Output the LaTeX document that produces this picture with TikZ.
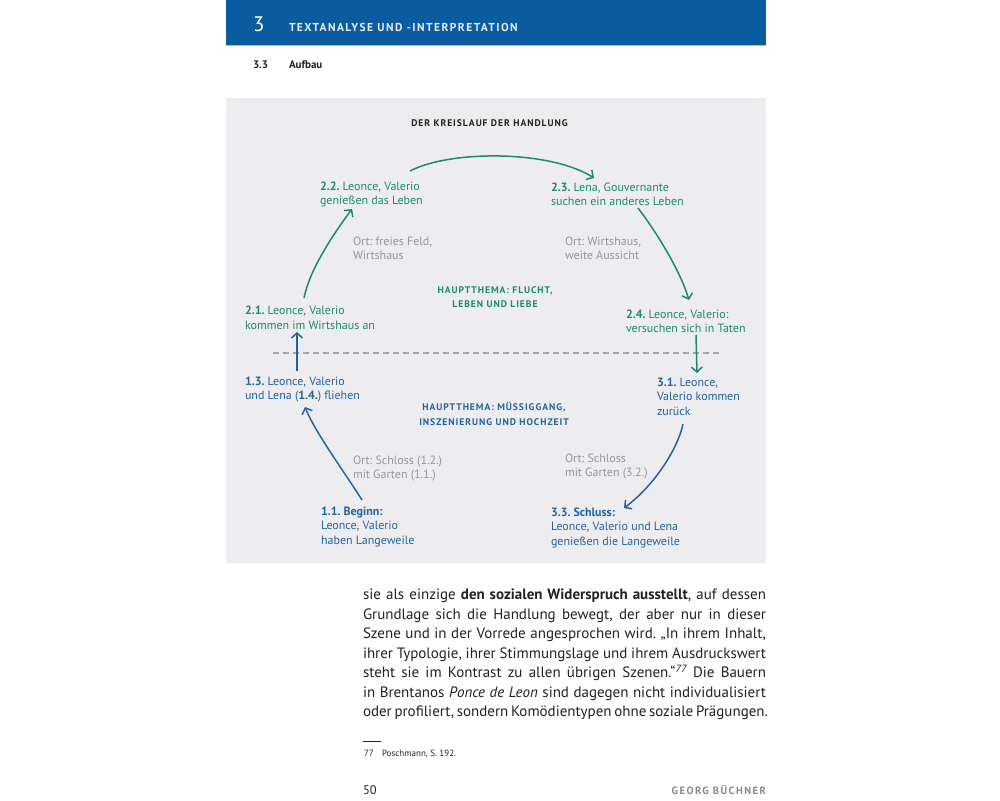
\documentclass[tikz,border=0pt]{standalone}
\usepackage{fontspec}
\setmainfont{PT Sans}
\usetikzlibrary{arrows.meta}
\definecolor{hdrblue}{HTML}{0A5C9E}
\definecolor{hdrline}{HTML}{8FC3E8}
\definecolor{hdrtext}{HTML}{E2ECF5}
\definecolor{panel}{HTML}{EDEDEF}
\definecolor{grn}{HTML}{1B8A6B}
\definecolor{blu}{HTML}{2463A1}
\definecolor{ortgray}{HTML}{96969B}
\definecolor{dashgray}{HTML}{A5A5A8}
\definecolor{ink}{HTML}{222222}
\definecolor{footgray}{HTML}{8A8A8A}
\newcommand\myfs[2]{\fontsize{#1}{#2}\selectfont}
\newcommand\mylines[1]{\begin{tabular}[t]{@{}l@{}}#1\end{tabular}}
\newcommand\myclines[1]{\begin{tabular}[t]{@{}c@{}}#1\end{tabular}}
\frenchspacing
\begin{document}
\begin{tikzpicture}[x=1pt,y=-1pt,
  every node/.style={inner sep=0pt, outer sep=0pt},
  nodetxt/.style={anchor=base west, font=\myfs{12}{14.5}},
  orttxt/.style={anchor=base west, font=\myfs{12}{14.5}, text=ortgray},
  themetxt/.style={anchor=base, font=\myfs{9.6}{14.5}\bfseries\addfontfeatures{LetterSpace=10}},
  bodyline/.style={anchor=base west, font=\myfs{15}{19.5}, text=ink},
  arrg/.style={draw=grn, line width=1.5pt, -{Straight Barb[length=5pt,width=11pt]}},
  arrb/.style={draw=blu, line width=1.5pt, -{Straight Barb[length=5pt,width=11pt]}},
  divider/.style={draw=dashgray, line width=1.2pt, dash pattern=on 6pt off 4pt}
]
\useasboundingbox (0,0) rectangle (1000,800);
\fill[white] (0,0) rectangle (1000,800);

% header
\fill[hdrblue] (226,0) rectangle (766,46);
\fill[hdrline] (226,45.5) rectangle (766,46.5);
\node[anchor=base west, font=\myfs{21}{24}, text=white] (chap) at (253,32) {3};
\node[anchor=base west, font=\myfs{11.5}{14}\bfseries\addfontfeatures{LetterSpace=12.5}, text=hdrtext] (chaptitle) at (289,32) {TEXTANALYSE UND -INTERPRETATION};
\node[anchor=base west, font=\myfs{11}{13}\bfseries, text=ink] (secnum) at (253,68) {3.3};
\node[anchor=base west, font=\myfs{11}{13}\bfseries, text=ink] (sectitle) at (289,68) {Aufbau};

% panel
\fill[panel] (226,98) rectangle (766,563);
\node[anchor=base, font=\myfs{9.6}{11}\bfseries\addfontfeatures{LetterSpace=10}, text=ink] (title) at (489.5,126) {DER KREISLAUF DER HANDLUNG};

% nodes
\node[nodetxt, text=grn] (n22) at (320,190) {\mylines{\textbf{2.2.} Leonce, Valerio\\genießen das Leben}};
\node[nodetxt, text=grn] (n23) at (551,191) {\mylines{\textbf{2.3.} Lena, Gouvernante\\suchen ein anderes Leben}};
\node[nodetxt, text=grn] (n21) at (245,314.5) {\mylines{\textbf{2.1.} Leonce, Valerio\\kommen im Wirtshaus an}};
\node[nodetxt, text=grn] (n24) at (626,318) {\mylines{\textbf{2.4.} Leonce, Valerio:\\versuchen sich in Taten}};
\node[nodetxt, text=blu] (n13) at (245,385) {\mylines{\textbf{1.3.} Leonce, Valerio\\und Lena (\textbf{1.4.}) fliehen}};
\node[nodetxt, text=blu] (n31) at (657,386) {\mylines{\textbf{3.1.} Leonce,\\Valerio kommen\\zurück}};
\node[nodetxt, text=blu] (n11) at (321,515) {\mylines{\textbf{1.1. Beginn:}\\Leonce, Valerio\\haben Langeweile}};
\node[nodetxt, text=blu] (n33) at (551,516) {\mylines{\textbf{3.3. Schluss:}\\Leonce, Valerio und Lena\\genießen die Langeweile}};

% places
\node[orttxt] (o1) at (353,245) {\mylines{Ort: freies Feld,\\Wirtshaus}};
\node[orttxt] (o2) at (565,245) {\mylines{Ort: Wirtshaus,\\weite Aussicht}};
\node[orttxt] (o3) at (353,464) {\mylines{Ort: Schloss (1.2.)\\mit Garten (1.1.)}};
\node[orttxt] (o4) at (565,462) {\mylines{Ort: Schloss\\mit Garten (3.2.)}};

% themes
\node[themetxt, text=grn] (t2) at (495,293) {\myclines{HAUPTTHEMA: FLUCHT,\\LEBEN UND LIEBE}};
\node[themetxt, text=blu] (t1) at (494,410.5) {\myclines{HAUPTTHEMA: MÜSSIGGANG,\\INSZENIERUNG UND HOCHZEIT}};

% divider
\coordinate (dl) at (273,353);
\coordinate (dr) at (719,353);
\draw[divider] (dl) -- (dr);

% arrow ends
\coordinate (a1s) at (410,171);  \coordinate (a1e) at (594,178);
\coordinate (a2s) at (638,208);  \coordinate (a2e) at (689,300);
\coordinate (a3s) at (304,298);  \coordinate (a3e) at (352,209);
\coordinate (a4s) at (696,335);  \coordinate (a4e) at (697,373);
\coordinate (a5s) at (297,371);  \coordinate (a5e) at (297,332);
\coordinate (a6s) at (362,500);  \coordinate (a6e) at (305,407);
\coordinate (a7s) at (683,424);  \coordinate (a7e) at (624,508);

\draw[arrg] (a1s) .. controls (450,150) and (550,150) .. (a1e);
\draw[arrg] (a2s) .. controls (655,230) and (680,270) .. (a2e);
\draw[arrg] (a3s) .. controls (310,268) and (335,232) .. (a3e);
\draw[arrg] (a4s) -- (a4e);
\draw[arrb] (a5s) -- (a5e);
\draw[arrb] (a6s) .. controls (345,473) and (315,432) .. (a6e);
\draw[arrb] (a7s) .. controls (678,448) and (655,485) .. (a7e);

% body text
\node[bodyline] (b1) at (363,599.5) {\makebox[403pt][s]{sie als einzige \textbf{den sozialen Widerspruch ausstellt}, auf dessen}};
\node[bodyline] (b2) at (363,619) {\makebox[403pt][s]{Grundlage sich die Handlung bewegt, der aber nur in dieser}};
\node[bodyline] (b3) at (363,638.5) {\makebox[403pt][s]{Szene und in der Vorrede angesprochen wird. „In ihrem Inhalt,}};
\node[bodyline] (b4) at (363,658) {\makebox[403pt][s]{ihrer Typologie, ihrer Stimmungslage und ihrem Ausdruckswert}};
\node[bodyline] (b5) at (363,677.5) {\makebox[403pt][s]{steht sie im Kontrast zu allen übrigen Szenen.“\textsuperscript{\itshape 77} Die Bauern}};
\node[bodyline] (b6) at (363,697) {\makebox[403pt][s]{in Brentanos \textit{Ponce de Leon} sind dagegen nicht individualisiert}};
\node[bodyline] (b7) at (363,716.5) {\makebox[403pt][s]{oder profiliert, sondern Komödientypen ohne soziale Prägungen.}};

% footnote
\coordinate (fr1) at (363,741);
\coordinate (fr2) at (381,741);
\draw[ink, line width=1pt] (fr1) -- (fr2);
\node[anchor=base west, font=\myfs{9}{11}, text=ink] (fnnum) at (364,756) {77};
\node[anchor=base west, font=\myfs{9}{11}, text=ink] (fntext) at (382,756) {Poschmann, S. 192.};

% footer
\node[anchor=base west, font=\myfs{12.5}{14}, text=ink] (pagenum) at (363,794.5) {50};
\node[anchor=base east, font=\myfs{10.5}{12}\bfseries\addfontfeatures{LetterSpace=14}, text=footgray] (runhead) at (766,794.5) {GEORG BÜCHNER};
\end{tikzpicture}
\end{document}
